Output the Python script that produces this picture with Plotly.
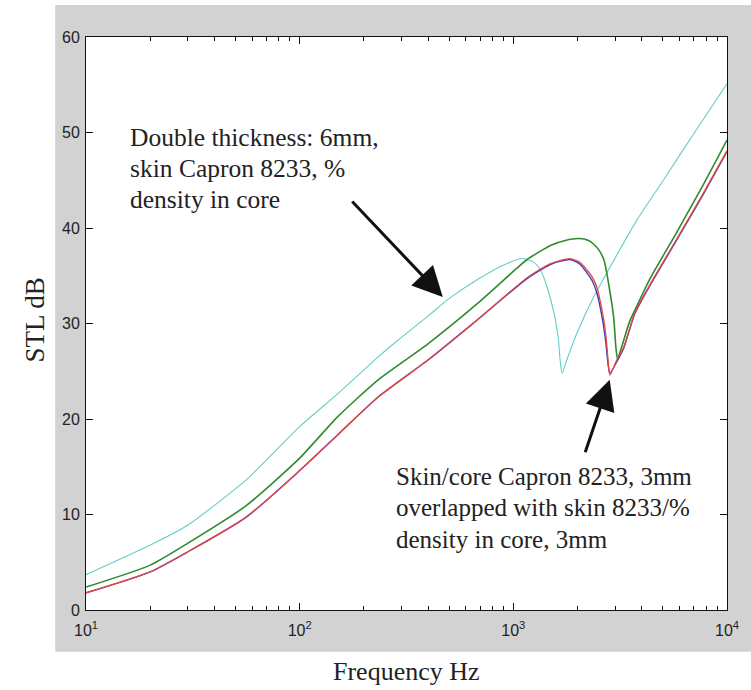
import plotly.graph_objects as go

# ---- data ----
freq_cyan = [10, 20, 30, 56, 100, 150, 233, 290, 400, 500, 680, 940, 1100, 1250, 1340, 1440,
             1550, 1620, 1655, 1690, 1780, 1985, 2380, 2950, 3780, 5000, 7000, 10000]
stl_cyan = [3.7, 6.8, 8.9, 13.6, 19.2, 22.6, 26.5, 28.3, 30.8, 32.6, 34.6, 36.3, 36.8, 36.4, 35.6, 33.8,
            31.1, 28.6, 26.2, 24.8, 26.2, 29.0, 32.8, 36.6, 40.8, 44.9, 49.9, 55.1]

freq_green = [10, 20, 30, 56, 100, 150, 233, 400, 680, 1040, 1160, 1500, 1750, 2030, 2250, 2380, 2530,
              2660, 2800, 2950, 3020, 3076, 3210, 3500, 3780, 4340, 5800, 7730, 10000]
stl_green = [2.4, 4.7, 7.0, 10.9, 15.9, 20.2, 24.1, 27.9, 32.1, 35.8, 36.7, 38.2, 38.7, 38.9, 38.7, 38.3, 37.6,
             36.6, 34.0, 30.6, 27.5, 26.3, 27.5, 30.2, 31.8, 34.6, 39.5, 44.5, 49.2]

freq_red = [10, 20, 30, 56, 100, 150, 233, 400, 680, 1160, 1500, 1840, 2050, 2210, 2350, 2460, 2620, 2710,
            2780, 2830, 3050, 3284, 3700, 4340, 5800, 7730, 10000]
stl_red = [1.8, 4.0, 6.1, 9.7, 14.6, 18.3, 22.3, 26.2, 30.4, 34.8, 36.3, 36.8, 36.4, 35.6, 34.8, 33.8, 31.0, 28.8,
           26.0, 24.6, 26.2, 27.5, 31.1, 34.0, 38.8, 43.6, 48.1]

freq_blue = [10, 20, 30, 56, 100, 150, 233, 400, 680, 1160, 1500, 1840, 2050, 2210, 2350, 2460, 2620, 2710,
             2780, 2830, 3050, 3284, 3700, 4340, 5800, 7730, 10000]
stl_blue = [1.8, 4.0, 6.1, 9.7, 14.6, 18.3, 22.3, 26.2, 30.4, 34.7, 36.2, 36.7, 36.2, 35.3, 34.4, 33.2, 30.3, 28.0,
            25.6, 24.8, 26.0, 27.4, 31.0, 33.9, 38.7, 43.5, 48.0]

x_tick_vals = [10, 100, 1000, 10000]
x_tick_text = ["10<sup>1</sup>", "10<sup>2</sup>", "10<sup>3</sup>", "10<sup>4</sup>"]
x_minor_vals = [m * d for d in (10, 100, 1000) for m in range(2, 10)]
y_tick_vals = [0, 10, 20, 30, 40, 50, 60]

note1_lines = ["Double thickness: 6mm,", "skin Capron 8233, %", "density in core"]
note2_lines = ["Skin/core Capron 8233, 3mm", "overlapped with skin 8233/%", "density in core, 3mm"]

fig = go.Figure()
def add_curve(xs, ys, color, width):
    fig.add_trace(go.Scatter(x=xs, y=ys, mode="lines",
                             line=dict(color=color, width=width, shape="spline", smoothing=0.6),
                             showlegend=False))

add_curve(freq_cyan, stl_cyan, "#62cfc6", 1.1)
add_curve(freq_green, stl_green, "#2f8a2f", 1.6)
add_curve(freq_blue, stl_blue, "#3b3bbf", 1.4)
add_curve(freq_red, stl_red, "#e8453c", 1.3)

axis_font = dict(family="Liberation Sans, Arial, sans-serif", size=16, color="#222")
fig.update_xaxes(type="log", range=[1, 4], tickvals=x_tick_vals, ticktext=x_tick_text,
                 ticks="inside", ticklen=7, tickcolor="#111", showline=True, linecolor="#111",
                 linewidth=1, mirror="ticks", showgrid=False, zeroline=False, tickfont=axis_font,
                 ticklabelstandoff=6,
                 minor=dict(tickvals=x_minor_vals, ticks="inside", ticklen=4, tickcolor="#111",
                            showgrid=False))
fig.update_yaxes(range=[0, 60], tickvals=y_tick_vals, ticks="inside", ticklen=7, tickcolor="#111",
                 showline=True, linecolor="#111", linewidth=1, mirror="ticks", showgrid=False,
                 zeroline=False, tickfont=axis_font, ticklabelstandoff=2)

serif = "Liberation Serif, Times New Roman, serif"
shapes = [
    dict(type="rect", xref="paper", yref="paper", x0=-0.048, x1=1.06, y0=-0.073, y1=1.056,
         fillcolor="#d2d2d2", line=dict(width=0), layer="below"),
    dict(type="rect", xref="x domain", yref="y domain", x0=0, x1=1, y0=0, y1=1,
         fillcolor="white", line=dict(width=0), layer="below"),
]

annotations = []
# plot area: top 37 px, height 573 px
for i, line in enumerate(note1_lines):
    ypix = 137 + 31.5 * i
    annotations.append(dict(text=line, xref="paper", yref="paper", x=0.066,
                            y=(610 - ypix) / 573, xanchor="left", yanchor="middle",
                            showarrow=False, font=dict(family=serif, size=25.5, color="#222")))
for i, line in enumerate(note2_lines):
    ypix = 476 + 31.5 * i
    annotations.append(dict(text=line, xref="paper", yref="paper", x=0.48,
                            y=(610 - ypix) / 573, xanchor="left", yanchor="middle",
                            showarrow=False, font=dict(family=serif, size=25, color="#222")))

annotations += [
    dict(text="", x=2.6698, y=32.77, xref="x", yref="y", ax=-92, ay=-97, showarrow=True,
         arrowhead=2, arrowsize=2.0, arrowwidth=3, arrowcolor="#111"),
    dict(text="", x=3.451, y=24.1, xref="x", yref="y", ax=-25, ay=74, showarrow=True,
         arrowhead=2, arrowsize=2.0, arrowwidth=3, arrowcolor="#111"),
    dict(text="STL dB", xref="paper", yref="paper", x=-0.079, y=0.506, textangle=-90,
         xanchor="center", yanchor="middle", showarrow=False,
         font=dict(family=serif, size=27, color="#222")),
    dict(text="Frequency Hz", xref="paper", yref="paper", x=0.5, y=-0.108,
         xanchor="center", yanchor="middle", showarrow=False,
         font=dict(family=serif, size=26, color="#222")),
]

fig.update_layout(width=751, height=690, margin=dict(l=86, r=18, t=37, b=80),
                  paper_bgcolor="white", plot_bgcolor="white",
                  shapes=shapes, annotations=annotations, showlegend=False)

fig.write_html("out.html")
